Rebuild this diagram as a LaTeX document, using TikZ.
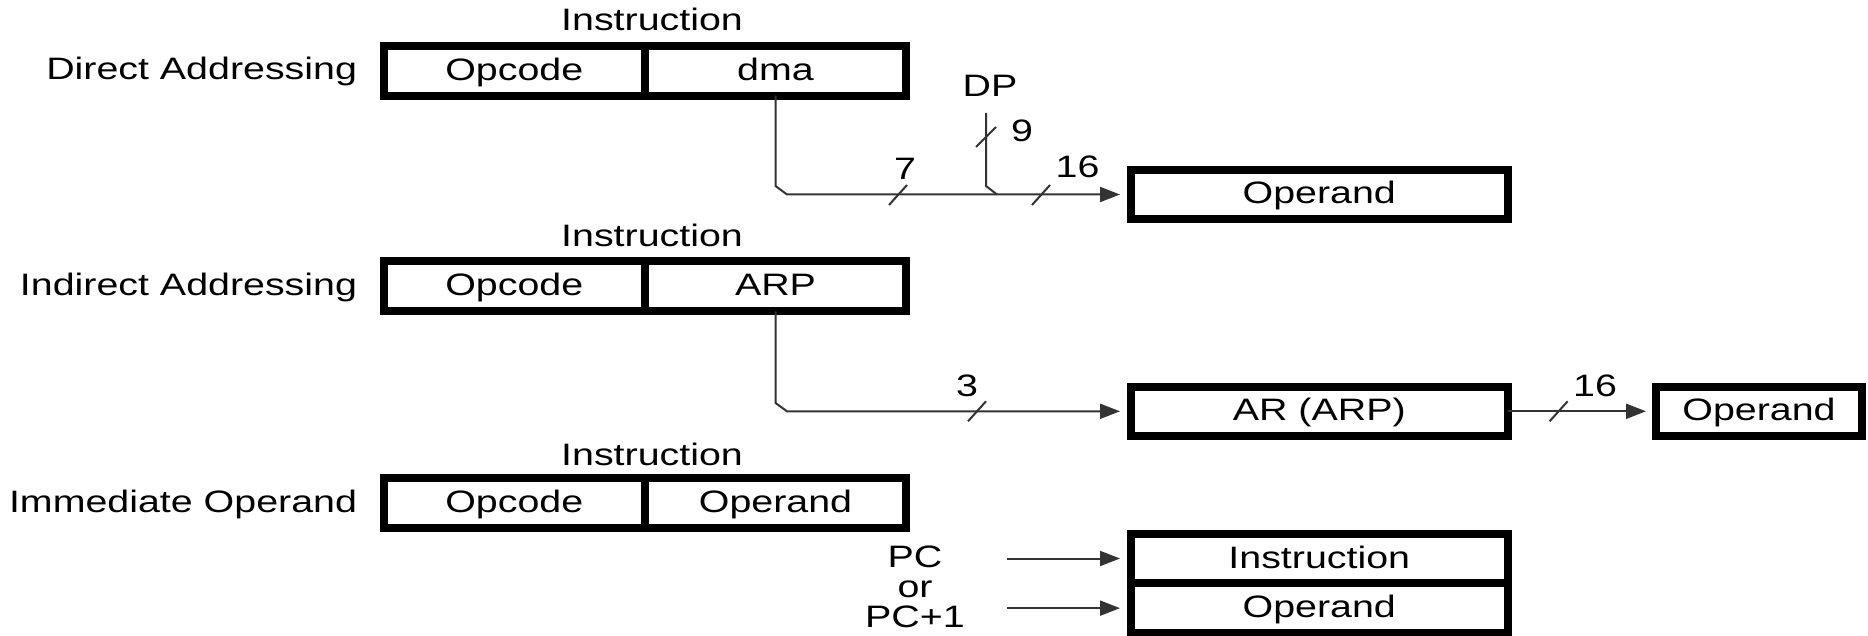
\documentclass[tikz,border=0pt]{standalone}
\usepackage{fontspec}
\setmainfont{Liberation Sans}[FakeStretch=1.27]
\usetikzlibrary{arrows.meta}
\begin{document}
\begin{tikzpicture}[x=1pt,y=-1pt,
  every node/.style={font=\fontsize{31}{36}\selectfont, inner sep=0pt, outer sep=0pt},
  cell/.style={draw, line width=8pt, minimum height=50pt, text height=24pt, text depth=5pt, anchor=center},
  conn/.style={draw=black!80, line width=2pt},
  arr/.style={conn, -{Triangle[length=20pt,width=15pt]}, shorten >=11pt},
  slash/.style={draw=black!80, line width=2pt},
  lbl/.style={anchor=base},
  rowlbl/.style={anchor=base east}]
\useasboundingbox (0,0) rectangle (1868,636);

% ---- Row 1: Direct Addressing
\node[lbl] (h1) at (652,31) {Instruction};
\node[rowlbl] (r1) at (357,80) {Direct Addressing};
\node[cell, minimum width=261.5pt] (oc1) at (514.25,70.75) {Opcode};
\node[cell, minimum width=261pt] (dma) at (775.5,70.75) {dma};
\node[cell, minimum width=376.5pt, minimum height=49pt] (opd1) at (1319.25,194.5) {Operand};
\coordinate (k1a) at (775.5,186);
\coordinate (k1b) at (787,194.5);
\draw[arr] (dma.south) -- (k1a) -- (k1b) -- (opd1.west);
\node[lbl] (dp) at (990,97) {DP};
\coordinate (dptop) at (986,113);
\coordinate (dpk) at (986,186);
\coordinate (dpj) at (997,194.5);
\draw[conn] (dptop) -- (dpk) -- (dpj);
\coordinate (s9) at (986,137);
\draw[slash] (s9) ++(-10,10) -- ++(20,-20);
\node[lbl] (n9) at (1022,142) {9};
\coordinate (s7) at (898,195);
\draw[slash] (s7) ++(-9,10) -- ++(18,-20);
\node[lbl] (n7) at (905,180) {7};
\coordinate (s16a) at (1041,195);
\draw[slash] (s16a) ++(-9,10) -- ++(18,-20);
\node[lbl] (n16a) at (1077.5,178) {16};

% ---- Row 2: Indirect Addressing
\node[lbl] (h2) at (652,246.7) {Instruction};
\node[rowlbl] (r2) at (357,295) {Indirect Addressing};
\node[cell, minimum width=261.5pt] (oc2) at (514.25,286.4) {Opcode};
\node[cell, minimum width=261pt] (arp) at (775.5,286.4) {ARP};
\node[cell, minimum width=376.5pt, minimum height=49pt] (ar) at (1319.25,411.3) {AR (ARP)};
\node[cell, minimum width=206pt, minimum height=49pt] (opd2) at (1759,411.3) {Operand};
\coordinate (k2a) at (775.5,403);
\coordinate (k2b) at (787,411.3);
\draw[arr] (arp.south) -- (k2a) -- (k2b) -- (ar.west);
\draw[arr, shorten >=10pt] (ar.east) -- (opd2.west);
\coordinate (s3) at (977,411.3);
\draw[slash] (s3) ++(-9,10) -- ++(18,-20);
\node[lbl] (n3) at (967,396) {3};
\coordinate (s16b) at (1558.6,411.3);
\draw[slash] (s16b) ++(-9,10) -- ++(18,-20);
\node[lbl] (n16b) at (1595,396.7) {16};

% ---- Row 3: Immediate Operand
\node[lbl] (h3) at (652,465) {Instruction};
\node[rowlbl] (r3) at (357,512) {Immediate Operand};
\node[cell, minimum width=261.5pt] (oc3) at (514.25,503) {Opcode};
\node[cell, minimum width=261pt] (imm) at (775.5,503) {Operand};
\node[cell, minimum width=376.5pt, minimum height=49.6pt] (mi) at (1319.25,558.5) {Instruction};
\node[cell, minimum width=376.5pt, minimum height=49.7pt] (mo) at (1319.25,608.15) {Operand};
\node[lbl] (pc) at (915,567) {PC};
\node[lbl] (or) at (915,597) {or};
\node[lbl] (pc1) at (915,627) {PC+1};
\coordinate (pcA) at (1007,558.5);
\coordinate (pcB) at (1007,608.15);
\draw[arr] (pcA) -- (mi.west);
\draw[arr] (pcB) -- (mo.west);
\end{tikzpicture}
\end{document}
